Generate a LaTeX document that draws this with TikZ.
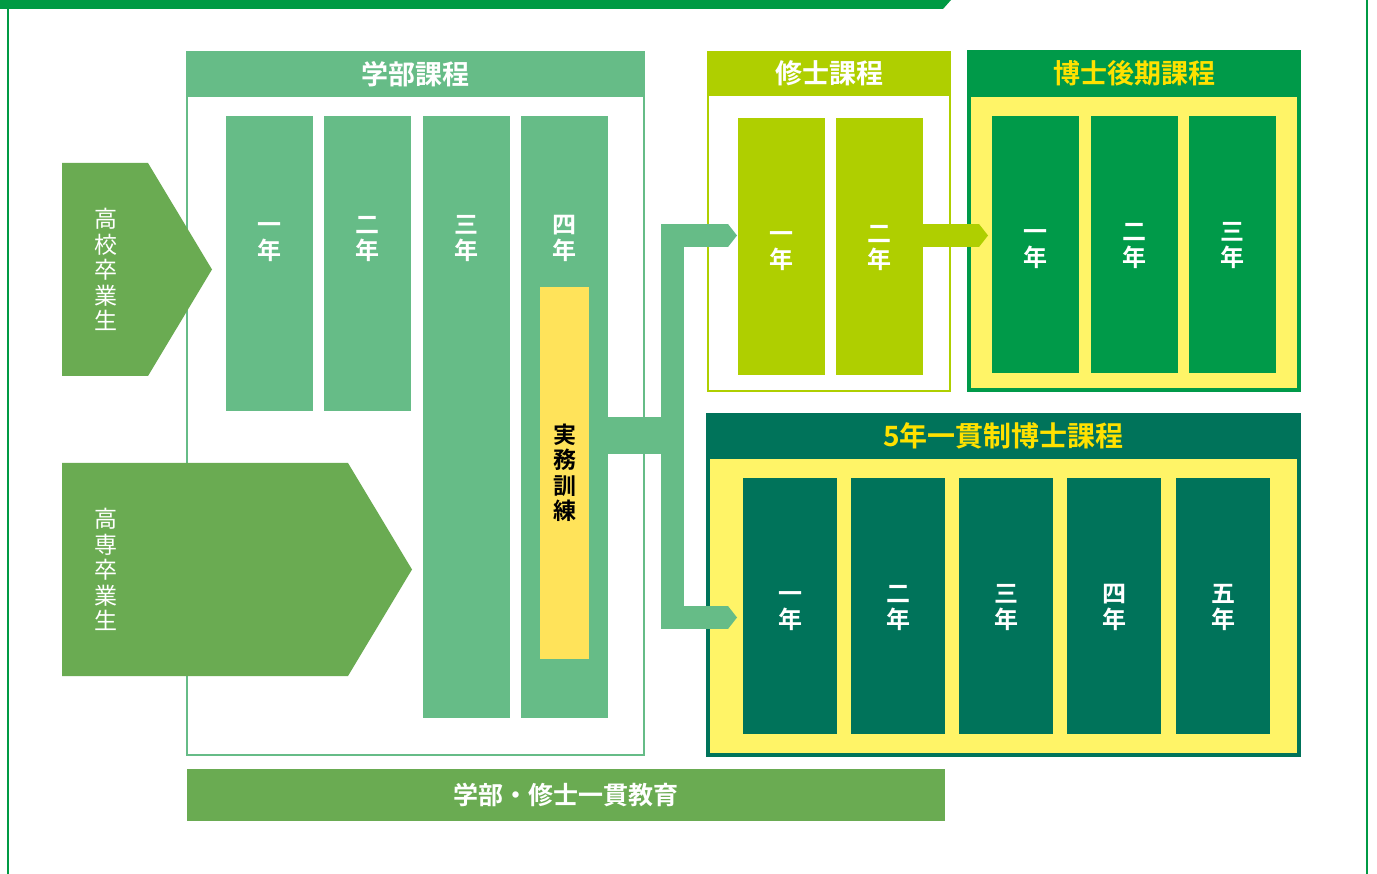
\documentclass[tikz,border=0pt]{standalone}
\usepackage{fontspec}
\setmainfont{Noto Sans CJK JP}[BoldFont=* Bold]
\usetikzlibrary{arrows.meta,shapes.symbols}
\definecolor{ugreen}{HTML}{66BC87}
\definecolor{entgreen}{HTML}{6AAB52}
\definecolor{mgreen}{HTML}{AFCF00}
\definecolor{dgreen}{HTML}{009A49}
\definecolor{fteal}{HTML}{00735A}
\definecolor{lyellow}{HTML}{FFF467}
\definecolor{hyellow}{HTML}{FFE100}
\definecolor{trainyel}{HTML}{FFE35A}
\definecolor{topgreen}{HTML}{009A44}
\newcommand{\yrfont}{\fontsize{24}{26}\selectfont\bfseries}
\newcommand{\hdfont}{\fontsize{27}{30}\selectfont\bfseries}
\newcommand{\entfont}{\fontsize{23}{25.5}\selectfont}
\newcommand{\yr}[1]{\vphantom{年}#1\\年}
\begin{document}
\begin{tikzpicture}[x=1pt,y=-1pt,
    box/.style={rectangle,anchor=north west,inner sep=0pt,outer sep=0pt},
    area/.style 2 args={minimum width=#1,minimum height=#2},
    yrcol/.style={box,align=center,text=white,font=\yrfont},
    header/.style={box,font=\hdfont},
    entry/.style={signal,signal to=east,signal pointer angle=118,fill=entgreen,
      anchor=west,inner sep=0pt,outer sep=0pt,minimum height=213},
    entlbl/.style={align=center,text=white,font=\entfont,inner sep=0pt},
    >={Triangle[length=9pt,width=23pt,line width=0pt]},
    band/.style={line width=23pt}]
\useasboundingbox (0,0) rectangle (1377,874);

% frame
\fill[topgreen] (0,0) -- (951,0) -- (943,9) -- (0,9) -- cycle;
\draw[topgreen,line width=1.5pt] (8,9) -- (8,874);
\draw[topgreen,line width=1.5pt] (1367,0) -- (1367,874);

% undergraduate
\node[box,area={457}{703},draw=ugreen,line width=2pt] (ug) at (187,52) {};
\node[header,area={459}{46},fill=ugreen,text=white] (ugh) at (186,51) {学部課程};
\node[yrcol,area={87}{295},fill=ugreen] (u1) at (226,116) {};
\node[yrcol,area={87}{295},fill=ugreen] (u2) at (324,116) {};
\node[yrcol,area={87}{602},fill=ugreen] (u3) at (423,116) {};
\node[yrcol,area={87}{602},fill=ugreen] (u4) at (521,116) {};
\node[yrcol,anchor=center] at ([yshift=-121pt]u1.north) {\yr{一}};
\node[yrcol,anchor=center] at ([yshift=-121pt]u2.north) {\yr{二}};
\node[yrcol,anchor=center] at ([yshift=-121pt]u3.north) {\yr{三}};
\node[yrcol,anchor=center] at ([yshift=-121pt]u4.north) {\yr{四}};
\node[yrcol,area={49}{372},fill=trainyel,text=black,font=\entfont\bfseries] (tr) at (540,287) {実\\務\\訓\\練};

% entrance
\node[entry,minimum width=150] (hs) at (62,269.5) {};
\node[entry,minimum width=350] (ks) at (62,569.5) {};
\node[entlbl] at (106,269.5) {高\\校\\卒\\業\\生};
\node[entlbl] at (106,569.5) {高\\専\\卒\\業\\生};

% master
\node[box,area={242}{339},draw=mgreen,line width=2pt] (ms) at (708,52) {};
\node[header,area={244}{45},fill=mgreen,text=white] (msh) at (707,51) {修士課程};
\node[yrcol,area={87}{257},fill=mgreen] (m1) at (738,118) {\yr{一}};
\node[yrcol,area={87}{257},fill=mgreen] (m2) at (836,118) {\yr{二}};

% doctoral
\node[box,area={330}{338},draw=dgreen,fill=lyellow,line width=4pt] (dc) at (969,52) {};
\node[header,area={334}{47},fill=dgreen,text=hyellow] (dch) at (967,50) {博士後期課程};
\node[yrcol,area={87}{257},fill=dgreen] (d1) at (992,116) {\yr{一}};
\node[yrcol,area={87}{257},fill=dgreen] (d2) at (1091,116) {\yr{二}};
\node[yrcol,area={87}{257},fill=dgreen] (d3) at (1189,116) {\yr{三}};

% five-year doctoral
\node[box,area={591}{340},draw=fteal,fill=lyellow,line width=4pt] (fv) at (708,415) {};
\node[header,area={595}{46},fill=fteal,text=hyellow,font=\fontsize{28}{30}\selectfont\bfseries] (fvh) at (706,413) {5年一貫制博士課程};
\node[yrcol,area={94}{256},fill=fteal] (f1) at (743,478) {\yr{一}};
\node[yrcol,area={94}{256},fill=fteal] (f2) at (851,478) {\yr{二}};
\node[yrcol,area={94}{256},fill=fteal] (f3) at (959,478) {\yr{三}};
\node[yrcol,area={94}{256},fill=fteal] (f4) at (1067,478) {\yr{四}};
\node[yrcol,area={94}{256},fill=fteal] (f5) at (1176,478) {\yr{五}};

% integrated
\node[box,area={758}{52},fill=entgreen,text=white,font=\fontsize{25}{28}\selectfont\bfseries] (ig) at (187,769) {学部・修士一貫教育};

% connectors
\coordinate (jn) at (672.5,435.5);
\coordinate (rowa) at (0,235.5);
\coordinate (rowb) at (0,617.5);
\draw[ugreen,line width=37pt] (u4.east |- jn) -- ([xshift=11.5pt]jn);
\draw[ugreen,band,<->] ([xshift=-1pt]m1.west |- rowa) -| (jn) |- ([xshift=-6pt]f1.west |- rowb);
\draw[mgreen,band,->] (m2.east |- rowa) -- ([xshift=-4pt]d1.west |- rowa);
\end{tikzpicture}
\end{document}
